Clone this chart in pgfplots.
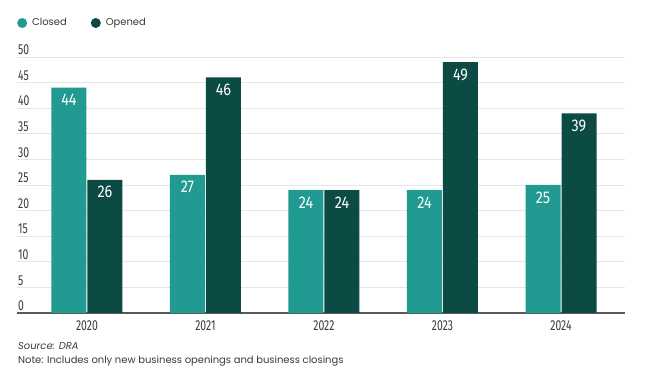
\documentclass[border=0pt]{standalone}
\usepackage{fontspec}
\usepackage{pgfplots}
\pgfplotsset{compat=1.18}
\setmainfont{Poppins}
\newfontfamily\tickfont[FakeStretch=0.72]{Fira Sans}
\newfontfamily\barfont[FakeStretch=0.85]{Fira Sans}
\definecolor{closedcol}{HTML}{219A92}
\definecolor{openedcol}{HTML}{0C4B44}
\definecolor{txt}{HTML}{3A3A3A}
\begin{document}
\begin{tikzpicture}
\path[use as bounding box] (0bp,0bp) rectangle (655bp,370bp);
\begin{axis}[
  at={(17bp,57bp)}, anchor=south west,
  scale only axis, width=608bp, height=256bp,
  xmin=-0.59, xmax=4.54, ymin=0, ymax=50,
  ybar=1bp, bar width=35bp,
  xtick={0,1,2,3,4}, xticklabels={2020,2021,2022,2023,2024},
  ytick={0,5,...,50},
  /pgf/number format/assume math mode=true,
  axis x line*=bottom, axis y line*=left,
  y axis line style={draw=none},
  x axis line style={draw=black!65, line width=1.2bp},
  major tick length=0pt,
  ymajorgrids, grid style={draw=black!10, line width=0.8bp},
  yticklabel style={anchor=south west, inner sep=1bp, xshift=0bp, yshift=1bp, font=\tickfont\fontsize{14.5}{14.5}\selectfont, text=txt},
  xticklabel style={font=\tickfont\fontsize{14.5}{14.5}\selectfont, text=txt, yshift=-4bp},
  nodes near coords,
  every node near coord/.append style={anchor=north, yshift=-3bp, text=white, font=\barfont\fontsize{17}{17}\selectfont},
  legend style={draw=none, fill=none, at={(0,1)}, anchor=west, xshift=0bp, yshift=34bp, inner sep=0pt,
    font=\fontsize{10}{12}\selectfont, text=txt,
    /tikz/every odd column/.style={column sep=3bp},
    /tikz/every even column/.style={column sep=22bp}},
  legend columns=2,
]
\addplot[fill=closedcol, draw=none, legend image code/.code={\fill[closedcol] (5bp,0bp) circle (5bp);}] coordinates {(0,44) (1,27) (2,24) (3,24) (4,25)};
\addplot[fill=openedcol, draw=none, legend image code/.code={\fill[openedcol] (5bp,0bp) circle (5bp);}] coordinates {(0,26) (1,46) (2,24) (3,49) (4,39)};
\legend{Closed, Opened}
\end{axis}
\node[anchor=base west, inner sep=0pt, text=txt, font=\itshape\fontsize{10}{12}\selectfont] at (18bp,21bp) {Source: DRA};
\node[anchor=base west, inner sep=0pt, text=txt, font=\fontsize{10}{12}\selectfont] at (18bp,7bp) {Note: Includes only new business openings and business closings};
\end{tikzpicture}
\end{document}
